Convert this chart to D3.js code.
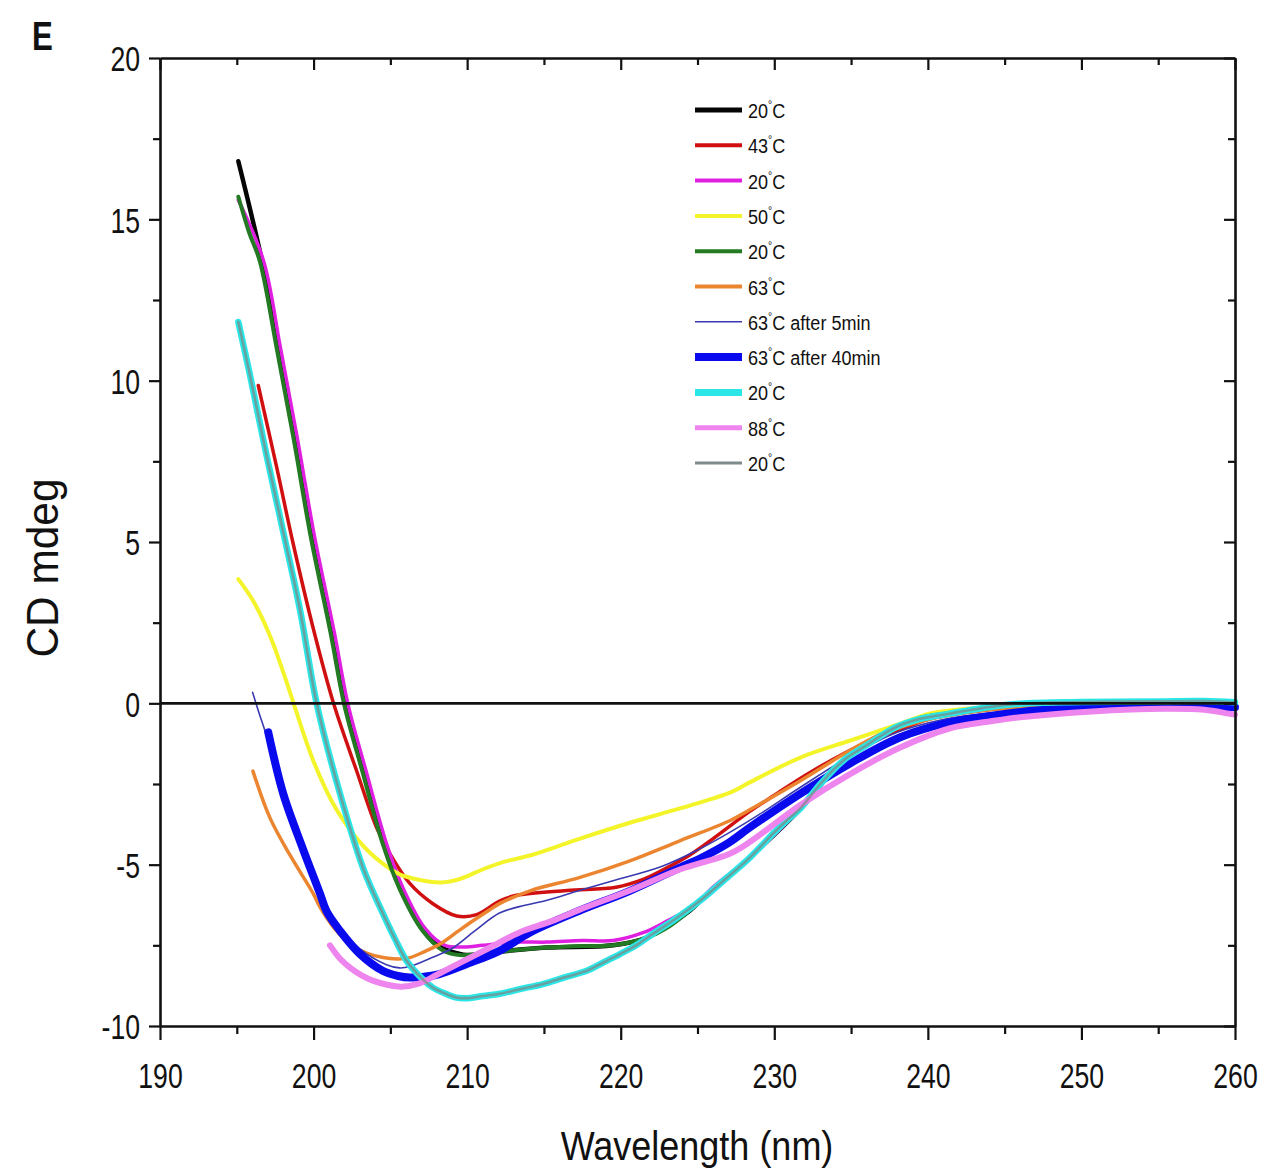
<!DOCTYPE html>
<html>
<head>
<meta charset="utf-8">
<script src="https://cdn.jsdelivr.net/npm/d3@7"></script>
<style>
  html, body { margin: 0; padding: 0; background: #fff; }
  svg { display: block; }
  text { font-family: "Liberation Sans", Arial, sans-serif; fill: #111; }
</style>
</head>
<body>
<svg id="chart" width="1276" height="1171"></svg>
<script>
// CD spectra (mdeg) versus wavelength (nm), one series per temperature step
const xTicksMajor = [190, 200, 210, 220, 230, 240, 250, 260];
const yTicksMajor = [-10, -5, 0, 5, 10, 15, 20];

const black20 = [[195.1,16.8],[196.6,13.8],[197.75,11.0],[198.85,8.2],[199.95,5.2],[201.25,2.2],[202.15,-0.05],[203.35,-2.15],[204.65,-4.35],[205.75,-5.75],[207.2,-7.0],[208.5,-7.6],[209.4,-7.75],[210.0,-7.8],[212.0,-7.7],[215.2,-7.57],[219.5,-7.5],[221.7,-7.26],[224.3,-6.5],[225.2,-6.12],[228.4,-4.78],[231.7,-3.27],[234.5,-1.77],[237.9,-0.74],[241.4,-0.32],[246.0,-0.01],[250,0.03],[255,0.05],[260,0.0]];
const red43 = [[196.4,9.85],[197.6,7.31],[198.68,4.93],[199.98,2.32],[201.3,0.0],[202.8,-2.09],[204.1,-3.85],[204.97,-4.66],[206.28,-5.59],[207.77,-6.21],[209.32,-6.59],[210.62,-6.55],[212.14,-6.12],[213.2,-5.95],[216.5,-5.8],[219.7,-5.7],[221.5,-5.45],[223.0,-5.1],[224.5,-4.7],[226.0,-4.2],[228.4,-3.35],[230.0,-2.85],[232.3,-2.15],[235.6,-1.3],[238.0,-0.85],[240.0,-0.5],[243.0,-0.25],[245.0,-0.15],[250,-0.05],[255,0.0],[260,0.0]];
const magenta20 = [[195.1,15.6],[196.75,13.7],[197.85,11.0],[198.95,8.2],[200.05,5.2],[201.35,2.2],[202.25,-0.05],[203.45,-2.15],[204.75,-4.35],[205.85,-5.75],[207.3,-7.0],[208.55,-7.5],[209.8,-7.55],[211.0,-7.5],[213.0,-7.4],[215.2,-7.4],[217.5,-7.35],[219.5,-7.35],[221.5,-7.1],[223.0,-6.75],[224.7,-6.3],[226.0,-5.7],[228.4,-4.78],[231.7,-3.27],[234.5,-1.77],[237.9,-0.74],[241.4,-0.32],[246.0,-0.01],[250,0.03],[255,0.05],[260,0.0]];
const yellow50 = [[195.1,3.85],[196.1,3.15],[197.2,2.05],[198.25,0.65],[198.7,0.0],[200.0,-1.8],[201.5,-3.3],[203.2,-4.4],[204.6,-5.0],[205.6,-5.3],[206.7,-5.45],[208.3,-5.55],[209.5,-5.45],[211.0,-5.15],[212.5,-4.9],[214.2,-4.7],[217.3,-4.2],[220.6,-3.7],[223.9,-3.25],[227.2,-2.75],[228.4,-2.45],[231.7,-1.68],[234.9,-1.16],[238.2,-0.63],[240.3,-0.3],[243.0,-0.15],[245.0,-0.08],[250,-0.03],[255,0.0],[260,0.0]];
const green20 = [[195.1,15.7],[195.8,14.6],[196.5,13.7],[197.6,11.0],[198.7,8.2],[199.8,5.2],[201.1,2.2],[202.0,-0.05],[203.2,-2.15],[204.5,-4.35],[205.6,-5.75],[207.1,-7.05],[208.4,-7.65],[209.5,-7.8],[210.8,-7.76],[213.0,-7.65],[215.2,-7.57],[217.5,-7.52],[219.5,-7.5],[221.7,-7.26],[223.2,-6.9],[224.3,-6.5],[225.2,-6.12],[226.8,-5.45],[228.4,-4.78],[230.0,-4.0],[231.7,-3.27],[233.0,-2.5],[234.5,-1.77],[236.0,-1.3],[237.9,-0.74],[239.5,-0.45],[241.4,-0.3],[244.0,-0.1],[246.0,0.0],[250,0.03],[255,0.05],[260,0.0]];
const orange63 = [[196.05,-2.1],[197.16,-3.55],[198.46,-4.7],[199.98,-5.9],[200.4,-6.3],[201.4,-7.0],[202.37,-7.46],[203.5,-7.75],[204.52,-7.88],[205.5,-7.92],[206.28,-7.88],[207.2,-7.7],[208.23,-7.46],[209.3,-7.1],[210.38,-6.74],[211.3,-6.45],[212.14,-6.2],[214.1,-5.81],[217.3,-5.4],[220.6,-4.88],[223.85,-4.26],[227.1,-3.64],[228.4,-3.3],[231.7,-2.4],[234.9,-1.47],[237.0,-0.95],[240.0,-0.5],[243.0,-0.25],[245.0,-0.15],[250,-0.1],[255,-0.05],[260,-0.05]];
const navy63after5 = [[196.03,0.34],[196.45,-0.3],[196.9,-0.95],[198.0,-2.85],[199.3,-4.55],[200.4,-5.85],[201.7,-6.95],[203.0,-7.6],[204.75,-8.1],[205.6,-8.2],[206.3,-8.15],[207.6,-7.9],[209.0,-7.6],[210.5,-7.05],[212.1,-6.5],[213.4,-6.3],[215.2,-6.1],[217.3,-5.8],[219.5,-5.5],[222.7,-5.05],[225.0,-4.55],[227.1,-4.0],[229.0,-3.45],[231.7,-2.6],[234.9,-1.65],[238.0,-0.9],[241.0,-0.5],[244.0,-0.3],[247.0,-0.18],[250,-0.12],[255,-0.06],[260,-0.08]];
const blue63after40 = [[197.05,-0.9],[198.03,-2.81],[199.3,-4.5],[200.42,-5.9],[200.85,-6.45],[201.72,-7.05],[203.02,-7.77],[204.5,-8.29],[205.5,-8.45],[206.28,-8.5],[207.2,-8.47],[208.2,-8.39],[209.97,-8.08],[212.1,-7.67],[214.1,-7.1],[217.3,-6.43],[220.6,-5.81],[223.85,-5.09],[225.2,-4.8],[227.1,-4.3],[228.4,-3.85],[231.7,-2.8],[234.9,-1.87],[238.2,-1.05],[241.4,-0.59],[244.2,-0.38],[247.0,-0.22],[250,-0.15],[255,-0.08],[260,-0.12]];
const cyan20 = [[195.1,11.82],[195.86,10.17],[196.95,7.66],[198.03,5.3],[199.11,2.91],[200.2,0.0],[201.72,-2.8],[203.22,-5.1],[204.52,-6.52],[205.3,-7.3],[206.06,-7.98],[207.0,-8.5],[207.77,-8.81],[208.6,-9.0],[209.32,-9.12],[210.2,-9.13],[211.03,-9.07],[212.14,-9.0],[213.5,-8.85],[214.93,-8.7],[216.3,-8.5],[217.78,-8.29],[219.0,-8.0],[219.95,-7.77],[221.0,-7.5],[222.1,-7.14],[223.5,-6.7],[225.16,-6.12],[226.8,-5.45],[228.41,-4.78],[230.0,-4.0],[231.0,-3.55],[231.67,-3.27],[233.0,-2.5],[234.5,-1.77],[236.0,-1.3],[237.9,-0.74],[239.5,-0.48],[241.4,-0.32],[243.5,-0.15],[246.0,-0.01],[250,0.04],[255,0.06],[258,0.07],[260,0.03]];
const violet88 = [[201.07,-7.5],[201.7,-7.9],[202.37,-8.19],[203.1,-8.42],[203.9,-8.6],[204.8,-8.72],[205.7,-8.78],[206.9,-8.68],[208.0,-8.42],[209.5,-8.05],[211.27,-7.62],[213.4,-7.1],[215.5,-6.75],[217.3,-6.4],[220.6,-5.8],[223.85,-5.15],[227.1,-4.66],[228.4,-4.3],[231.7,-3.15],[234.9,-2.2],[238.2,-1.37],[241.4,-0.78],[244.2,-0.55],[246.0,-0.43],[250.7,-0.25],[255.4,-0.17],[258.0,-0.2],[259.6,-0.32],[260,-0.35]];
const gray20 = [[195.1,11.82],[195.86,10.17],[196.95,7.66],[198.03,5.3],[199.11,2.91],[200.2,0.0],[201.72,-2.8],[203.22,-5.1],[204.52,-6.52],[205.3,-7.3],[206.06,-7.98],[207.0,-8.5],[207.77,-8.81],[208.6,-9.0],[209.32,-9.12],[210.2,-9.13],[211.03,-9.07],[212.14,-9.0],[213.5,-8.85],[214.93,-8.7],[216.3,-8.5],[217.78,-8.29],[219.0,-8.0],[219.95,-7.77],[221.0,-7.5],[222.1,-7.14],[223.5,-6.7],[225.16,-6.12],[226.8,-5.45],[228.41,-4.78],[230.0,-4.0],[231.0,-3.55],[231.67,-3.27],[233.0,-2.5],[234.5,-1.77],[236.0,-1.3],[237.9,-0.74],[239.5,-0.48],[241.4,-0.32],[243.5,-0.15],[246.0,-0.01],[250,0.04],[255,0.06],[258,0.07],[260,0.03]];

const seriesLabels = ["20", "43", "20", "50", "20", "63", "63", "63", "20", "88", "20"];
const seriesSuffix = ["", "", "", "", "", "", " after 5min", " after 40min", "", "", ""];
const seriesData = [black20, red43, magenta20, yellow50, green20, orange63, navy63after5, blue63after40, cyan20, violet88, gray20];
const seriesColors = ["#050505", "#d01010", "#e020e0", "#f4f42a", "#237a23", "#ec8530", "#3a3ab0", "#0a0aee", "#2ae6e6", "#ee84ee", "#7f8a8a"];
const seriesWidths = [4.5, 3.5, 3.5, 4, 4, 3.5, 1.6, 8, 6.5, 6, 2.6];
const legendWidths = [5, 4, 4, 4, 4, 4, 1.6, 8, 7, 5, 3];

const svg = d3.select("#chart");
const plotLeft = 160, plotRight = 1235, plotTop = 58, plotBottom = 1026;

const x = d3.scaleLinear().domain([190, 260]).range([plotLeft, plotRight]);
const y = d3.scaleLinear().domain([-10, 20]).range([plotBottom, plotTop]);

// spectra, drawn in legend order
const line = d3.line()
  .x(d => x(d[0]))
  .y(d => y(d[1]))
  .curve(d3.curveCatmullRom.alpha(0.5));

const curves = svg.append("g");
seriesData.forEach((s, i) => {
  curves.append("path")
    .datum(s)
    .attr("d", line)
    .attr("fill", "none")
    .attr("stroke", seriesColors[i])
    .attr("stroke-width", seriesWidths[i])
    .attr("stroke-linecap", "round")
    .attr("stroke-linejoin", "round")
    .attr("stroke-opacity", i === 10 ? 0.75 : 1);
});

// zero reference line
svg.append("line")
  .attr("x1", x(190)).attr("x2", x(260))
  .attr("y1", y(0)).attr("y2", y(0))
  .attr("stroke", "#111").attr("stroke-width", 2.6);

// frame and ticks
const axisStroke = 2.6;
const minorX = d3.range(195, 260, 10);
const minorY = d3.range(-7.5, 20, 5);
const plainNumber = d => String(d);

function styleAxis(g) {
  g.select(".domain").attr("stroke", "#111").attr("stroke-width", axisStroke);
  g.selectAll(".tick line").attr("stroke", "#111").attr("stroke-width", 2.2);
}
function styleMinor(g) {
  g.select(".domain").remove();
  g.selectAll(".tick line").attr("stroke", "#111").attr("stroke-width", 2.2);
}

// bottom
const gB = svg.append("g").attr("transform", `translate(0,${plotBottom})`)
  .call(d3.axisBottom(x).tickValues(xTicksMajor).tickSize(14).tickSizeOuter(0).tickPadding(22).tickFormat(plainNumber));
styleAxis(gB);
gB.selectAll(".tick text")
  .attr("font-size", 36)
  .attr("fill", "#111")
  .attr("dy", "0.71em")
  .attr("transform", "scale(0.74,1)");
svg.append("g").attr("transform", `translate(0,${plotBottom})`)
  .call(d3.axisBottom(x).tickValues(minorX).tickSize(8).tickFormat(""))
  .call(styleMinor);

// top
const gT = svg.append("g").attr("transform", `translate(0,${plotTop})`)
  .call(d3.axisBottom(x).tickValues(xTicksMajor).tickSize(12).tickSizeOuter(0).tickFormat(""));
styleAxis(gT);
svg.append("g").attr("transform", `translate(0,${plotTop})`)
  .call(d3.axisBottom(x).tickValues(minorX).tickSize(7).tickFormat(""))
  .call(styleMinor);

// left
const gL = svg.append("g").attr("transform", `translate(${plotLeft},0)`)
  .call(d3.axisLeft(y).tickValues(yTicksMajor).tickSize(11).tickSizeOuter(0).tickFormat(plainNumber));
styleAxis(gL);
gL.selectAll(".tick text")
  .attr("font-size", 36)
  .attr("fill", "#111")
  .attr("x", -20 / 0.74)
  .attr("dy", "0.36em")
  .attr("transform", "scale(0.74,1)");
svg.append("g").attr("transform", `translate(${plotLeft},0)`)
  .call(d3.axisLeft(y).tickValues(minorY).tickSize(7).tickFormat(""))
  .call(styleMinor);

// right
const gR = svg.append("g").attr("transform", `translate(${plotRight},0)`)
  .call(d3.axisLeft(y).tickValues(yTicksMajor).tickSize(11).tickSizeOuter(0).tickFormat(""));
styleAxis(gR);
svg.append("g").attr("transform", `translate(${plotRight},0)`)
  .call(d3.axisLeft(y).tickValues(minorY).tickSize(7).tickFormat(""))
  .call(styleMinor);

// axis titles
svg.append("text")
  .attr("transform", "translate(697,1160) scale(0.9,1)")
  .attr("text-anchor", "middle")
  .attr("font-size", 40)
  .text("Wavelength (nm)");

svg.append("text")
  .attr("transform", "translate(58,568) rotate(-90) scale(1.06,1.1)")
  .attr("text-anchor", "middle")
  .attr("font-size", 40)
  .text("CD mdeg");

// panel letter
svg.append("text")
  .attr("transform", "translate(32,50) scale(0.78,1)")
  .attr("font-size", 40)
  .attr("font-weight", "bold")
  .text("E");

// legend
const legend = svg.append("g");
const legY0 = 110, legDy = 35.3;
seriesData.forEach((s, i) => {
  const yy = legY0 + i * legDy;
  legend.append("line")
    .attr("x1", 695).attr("x2", 742)
    .attr("y1", yy).attr("y2", yy)
    .attr("stroke", seriesColors[i])
    .attr("stroke-width", legendWidths[i]);
  const t = legend.append("text")
    .attr("transform", `translate(748,${yy + 8}) scale(0.86,1)`)
    .attr("font-size", 21);
  t.append("tspan").text(seriesLabels[i]);
  t.append("tspan").attr("font-size", 12).attr("dy", -9).text("°");
  t.append("tspan").attr("dy", 9).text("C" + seriesSuffix[i]);
});
</script>
</body>
</html>
